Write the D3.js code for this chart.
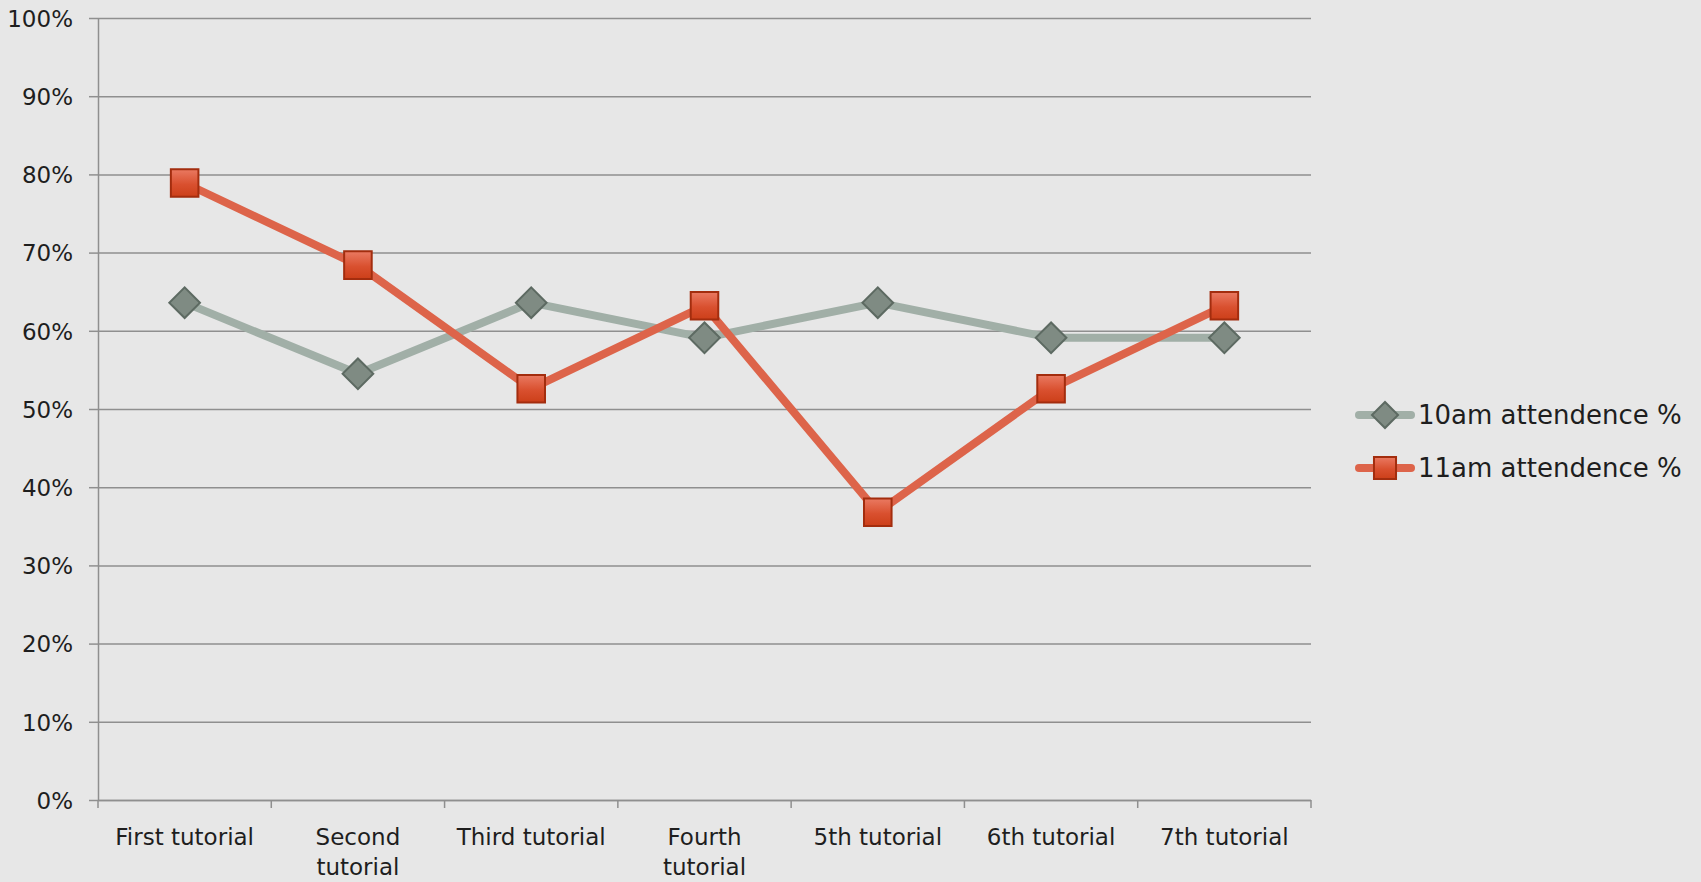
<!DOCTYPE html>
<html>
<head>
<meta charset="utf-8">
<script src="https://cdnjs.cloudflare.com/ajax/libs/d3/7.8.5/d3.min.js"></script>
<style>
  html, body { margin: 0; padding: 0; background: #e7e7e7; }
  svg { display: block; }
  .axis text, .legend text { font-family: "DejaVu Sans", sans-serif; fill: #1e1e1e; }
</style>
</head>
<body>
<svg width="1701" height="882"></svg>
<script>
// data
var categories = ["First tutorial", "Second tutorial", "Third tutorial", "Fourth tutorial",
                  "5th tutorial", "6th tutorial", "7th tutorial"];
var am10 = [0.636, 0.545, 0.636, 0.591, 0.636, 0.591, 0.591];
var am11 = [0.789, 0.684, 0.526, 0.632, 0.368, 0.526, 0.632];
var seriesNames = ["10am attendence %", "11am attendence %"];
var yTicks = [0, 0.1, 0.2, 0.3, 0.4, 0.5, 0.6, 0.7, 0.8, 0.9, 1];

var svg = d3.select("svg"),
    margin = {top: 18, right: 390, bottom: 82, left: 98},
    width = +svg.attr("width") - margin.left - margin.right,
    height = +svg.attr("height") - margin.top - margin.bottom;

var defs = svg.append("defs");
var grad = defs.append("linearGradient").attr("id", "sqGrad")
    .attr("x1", 0).attr("y1", 0).attr("x2", 0).attr("y2", 1);
grad.append("stop").attr("offset", "0%").attr("stop-color", "#ea7a62");
grad.append("stop").attr("offset", "55%").attr("stop-color", "#d9502f");
grad.append("stop").attr("offset", "100%").attr("stop-color", "#cc3f19");

var chartG = svg.append("g")
    .attr("transform", "translate(" + margin.left + "," + margin.top + ")");

var x = d3.scaleBand().domain(categories).range([0, width]);
var y = d3.scaleLinear().domain([0, 1]).range([height, 0]);

// gridlines
chartG.append("g")
    .attr("class", "grid")
    .call(d3.axisLeft(y).tickValues(yTicks).tickSize(-width).tickFormat(""))
    .call(function(g) {
      g.select(".domain").remove();
      g.selectAll("line").attr("stroke", "#8f8f8f").attr("stroke-width", 1.5);
    });

// y axis
var yAxisG = chartG.append("g")
    .attr("class", "y axis")
    .call(d3.axisLeft(y).tickValues(yTicks).tickSize(9).tickPadding(16).tickFormat(d3.format(".0%")));
yAxisG.select(".domain").attr("stroke", "#8f8f8f").attr("stroke-width", 1.5).attr("d", "M0.5," + height + "V0");
yAxisG.selectAll(".tick line").attr("stroke", "#8f8f8f").attr("stroke-width", 1.5);
yAxisG.selectAll("text").style("font-size", "23px").attr("dy", "0.36em");

// x axis
var xAxisG = chartG.append("g")
    .attr("class", "x axis")
    .attr("transform", "translate(0," + height + ")")
    .call(d3.axisBottom(x).tickSize(0).tickPadding(0));
xAxisG.select(".domain").attr("stroke", "#8f8f8f").attr("stroke-width", 1.5).attr("d", "M0," + 0.5 + "H" + width);

// boundary ticks
xAxisG.selectAll(".bound")
    .data(d3.range(categories.length + 1))
    .enter().append("line")
    .attr("class", "bound")
    .attr("x1", function(i) { return i * x.step(); })
    .attr("x2", function(i) { return i * x.step(); })
    .attr("y1", 0).attr("y2", 8)
    .attr("stroke", "#8f8f8f").attr("stroke-width", 1.5);

xAxisG.selectAll(".tick text")
    .style("font-size", "23px")
    .attr("dy", null)
    .each(function(d) {
      var t = d3.select(this);
      t.text(null);
      var words = d.split(" ");
      var probe = t.append("tspan").text(d);
      var w = probe.node().getComputedTextLength();
      probe.remove();
      var lines = w > x.step() - 14 ? [words.slice(0, -1).join(" "), words[words.length - 1]] : [d];
      lines.forEach(function(line, i) {
        t.append("tspan").attr("x", 0).attr("y", 45 + i * 30).text(line);
      });
    });

// lines and markers
var series = [
  {name: seriesNames[0], values: am10, color: "#a1afa7", shape: "diamond"},
  {name: seriesNames[1], values: am11, color: "#dd644a", shape: "square"}
];

var line = d3.line()
    .x(function(d, i) { return x(categories[i]) + x.bandwidth() / 2; })
    .y(function(d) { return y(d); });

function drawMarker(sel, shape, scale) {
  if (shape === "diamond") {
    sel.append("path")
      .attr("d", d3.symbol().type(d3.symbolSquare).size(470 * scale * scale)())
      .attr("transform", "rotate(45)")
      .attr("fill", "#7f8b83").attr("stroke", "#5d6a62").attr("stroke-width", 2);
  } else {
    sel.append("path")
      .attr("d", d3.symbol().type(d3.symbolSquare).size(760 * scale * scale)())
      .attr("fill", "url(#sqGrad)").attr("stroke", "#a32d0e").attr("stroke-width", 2);
  }
}

series.forEach(function(s) {
  chartG.append("path")
    .datum(s.values)
    .attr("fill", "none")
    .attr("stroke", s.color)
    .attr("stroke-width", 8)
    .attr("stroke-linejoin", "round")
    .attr("d", line);
});

series.forEach(function(s) {
  chartG.selectAll(".pt-" + s.shape)
    .data(s.values)
    .enter().append("g")
    .attr("class", "pt-" + s.shape)
    .attr("transform", function(d, i) {
      return "translate(" + (x(categories[i]) + x.bandwidth() / 2) + "," + y(d) + ")";
    })
    .each(function() { drawMarker(d3.select(this), s.shape, 1); });
});

// legend
var legend = svg.append("g").attr("class", "legend")
    .attr("transform", "translate(1355,415)");
series.forEach(function(s, i) {
  var g = legend.append("g").attr("transform", "translate(0," + (i * 53) + ")");
  g.append("line").attr("x1", 4).attr("x2", 56).attr("y1", 0).attr("y2", 0)
    .attr("stroke", s.color).attr("stroke-width", 8).attr("stroke-linecap", "round");
  var m = g.append("g").attr("transform", "translate(30,0)");
  drawMarker(m, s.shape, s.shape === "diamond" ? 0.85 : 0.8);
  g.append("text").attr("x", 63).attr("y", 0).attr("dy", "0.36em")
    .style("font-size", "26px").text(s.name);
});
</script>
</body>
</html>
